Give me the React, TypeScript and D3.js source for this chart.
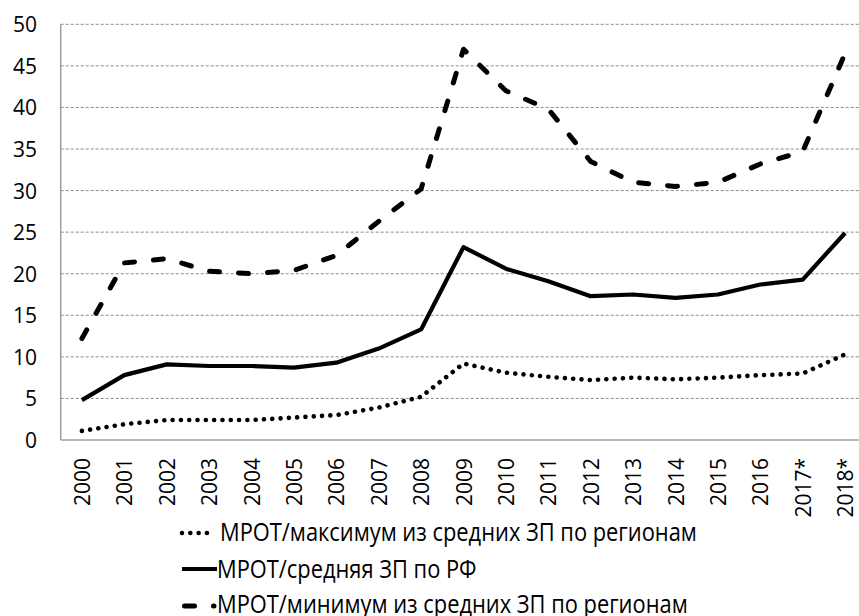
import React from "react";
import * as d3 from "d3";

const years = ["2000","2001","2002","2003","2004","2005","2006","2007","2008","2009","2010","2011","2012","2013","2014","2015","2016","2017*","2018*"];
const maxRegion = [1.1,1.9,2.4,2.4,2.4,2.7,3.0,3.9,5.2,9.2,8.1,7.6,7.2,7.5,7.3,7.5,7.8,8.0,10.3];
const avgRF = [4.8,7.8,9.1,8.9,8.9,8.7,9.3,11.0,13.3,23.2,20.6,19.1,17.3,17.5,17.1,17.5,18.7,19.3,24.9];
const minRegion = [12.2,21.3,21.8,20.3,20.0,20.4,22.2,26.3,30.2,47.0,42.0,39.8,33.5,31.0,30.5,31.0,33.2,34.7,46.5];
const yTicks = [0,5,10,15,20,25,30,35,40,45,50];
const legendLabels = [
  "МРОТ/максимум из средних ЗП по регионам",
  "МРОТ/средняя ЗП по РФ",
  "МРОТ/минимум из средних ЗП по регионам",
];

const W = 859, H = 616;
const left = 60.7, step = 42.4;
const font = "'Open Sans', 'Noto Sans', sans-serif";

const DOT = { dash: "0.01,8.3", width: 4.6 };
const LONG = { dash: "10,19", width: 5 };
const SQUEEZE = 0.875;

export default function App() {
  const x = d3.scalePoint<string>().domain(years).range([left, left + step * years.length]).padding(0.5);
  const y = d3.scaleLinear().domain([0, 50]).range([440, 24.3]);
  const line = d3.line<number>().x((_, i) => x(years[i]) as number).y((d) => y(d));

  const series = [
    { data: maxRegion, dash: DOT.dash, width: DOT.width },
    { data: avgRF, dash: undefined as string | undefined, width: 4.2 },
    { data: minRegion, dash: LONG.dash, width: LONG.width },
  ];

  const legendText = (label: string, tx: number, ty: number) => (
    <text transform={`translate(${tx},${ty}) scale(${SQUEEZE},1)`} fontFamily={font} fontSize={25} fill="#000">{label}</text>
  );

  return (
    <svg width={W} height={H} style={{ position: "absolute", left: 0, top: 0, background: "#fff" }} xmlns="http://www.w3.org/2000/svg">
      <rect x={0} y={0} width={W} height={H} fill="#fff" />
      {yTicks.filter((t) => t > 0).map((t) => (
        <line key={t} x1={left} x2={W} y1={y(t)} y2={y(t)} stroke="#8c8c8c" strokeWidth={1} strokeDasharray="3,2" />
      ))}
      <line x1={left} x2={left} y1={y(50)} y2={y(0)} stroke="#a0a0a0" strokeWidth={1.5} />
      <line x1={left} x2={W} y1={y(0)} y2={y(0)} stroke="#a0a0a0" strokeWidth={1.5} />
      {yTicks.map((t) => (
        <text key={t} x={37} y={y(t)} textAnchor="end" dominantBaseline="central" fontFamily={font} fontSize={21} fill="#000">{t}</text>
      ))}
      {years.map((yr) => (
        <text key={yr} transform={`translate(${x(yr)},458) rotate(-90)`} textAnchor="end" dominantBaseline="central" fontFamily={font} fontSize={21} fill="#000">{yr}</text>
      ))}
      {series.map((s, i) => (
        <path key={i} d={line(s.data) || ""} fill="none" stroke="#000" strokeWidth={s.width} strokeDasharray={s.dash} strokeLinecap={s.dash ? "round" : "butt"} strokeLinejoin="round" />
      ))}
      {/* legend */}
      <line x1={182} x2={210} y1={533} y2={533} stroke="#000" strokeWidth={DOT.width} strokeDasharray={DOT.dash} strokeLinecap="round" />
      {legendText(legendLabels[0], 220, 541)}
      <line x1={182} x2={217} y1={569} y2={569} stroke="#000" strokeWidth={4.2} />
      {legendText(legendLabels[1], 217, 578)}
      <line x1={184.5} x2={214} y1={606} y2={606} stroke="#000" strokeWidth={LONG.width} strokeDasharray={LONG.dash} strokeLinecap="round" />
      {legendText(legendLabels[2], 217, 613)}
    </svg>
  );
}
